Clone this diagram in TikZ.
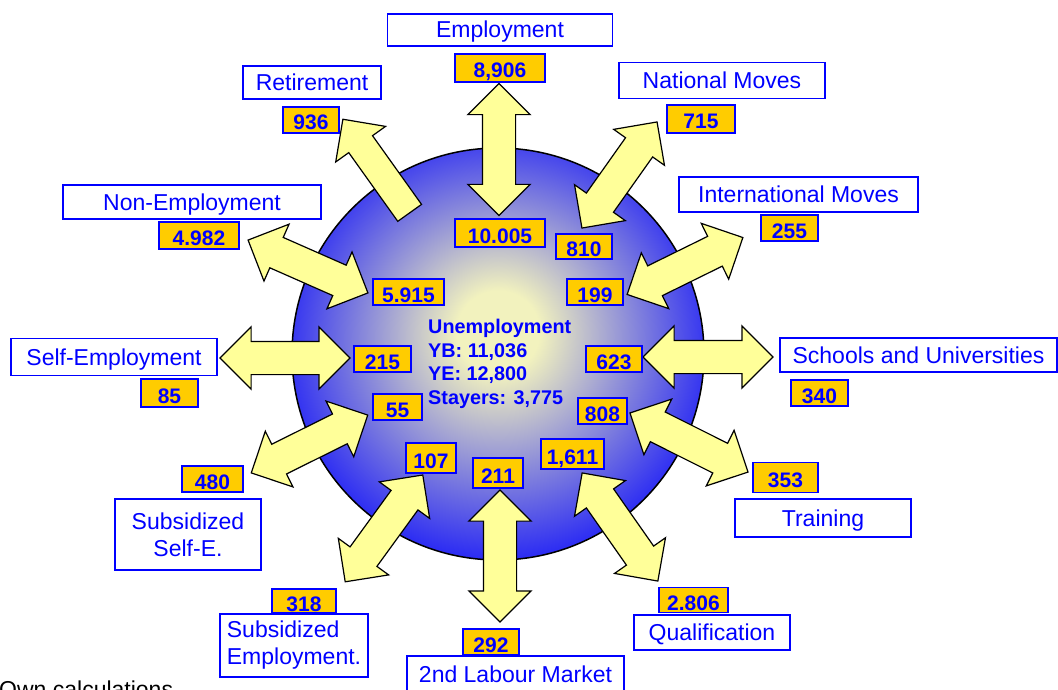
\documentclass[tikz,border=0pt]{standalone}
\usepackage{fontspec}
\setmainfont{Liberation Sans}
\usepackage{tikz}
\usetikzlibrary{shapes.arrows}
\definecolor{m_blue}{HTML}{0000FF}
\definecolor{m_gold}{HTML}{FFCC00}
\definecolor{m_pale}{HTML}{FFFF99}
\definecolor{m_core}{HTML}{F2F2BE}
\pgfdeclareradialshading{ballshade}{\pgfpoint{0bp}{3bp}}{%
  color(0bp)=(m_core); color(5bp)=(m_core); color(31bp)=(m_blue); color(50bp)=(m_blue)}
\newcommand{\labfont}{\fontsize{23}{27}\selectfont}
\newcommand{\valfont}{\bfseries\fontsize{21}{25}\selectfont}
\newcommand{\corefont}{\bfseries\fontsize{19.8}{23.7}\selectfont}

\begin{document}
\begin{tikzpicture}[
        x=1pt, y=-1pt,
        flow/.style={double arrow, draw=black, line width=1.2pt, fill=m_pale,
            inner xsep=0pt, inner ysep=16pt, double arrow head extend=14.5pt,
            minimum height=#1},
        flowout/.style={single arrow, draw=black, line width=1.2pt, fill=m_pale,
            inner xsep=0pt, inner ysep=14pt, single arrow head extend=16pt,
            minimum height=#1},
        lab/.style={draw=m_blue, line width=1.5pt, fill=white, text=m_blue,
            font=\labfont, inner sep=0pt, text height=21pt, text depth=5pt},
        labtwo/.style={draw=m_blue, line width=1.5pt, fill=white, text=m_blue,
            font=\labfont, inner sep=0pt},
        val/.style={draw=m_blue, line width=1.5pt, fill=m_gold, text=m_blue,
            font=\valfont, inner sep=0pt, text height=20pt, text depth=0pt}
    ]
    \useasboundingbox (0,0) rectangle (1058,690);
    \fill[white] (0,0) rectangle (1058,690);

    % the pool of the unemployed
    \node[circle, draw=black, line width=1.5pt, shading=ballshade, minimum size=412pt] (ball) at (498,354) {};

    % flows
    \node[flow=132pt, rotate=90] (aEmp) at (499,149.5) {};
    \node[flowout=115pt, rotate=125.5] (aRet) at (380.5,172) {};
    \node[flow=130pt, rotate=54.7] (aNat) at (619.5,175) {};
    \node[flow=129pt, rotate=26.2] (aInt) at (685,266) {};
    \node[flow=130pt] (aSch) at (708,357) {};
    \node[flow=132pt, rotate=-26.6] (aTra) at (689,442.5) {};
    \node[flow=132pt, rotate=-55] (aQua) at (620,527) {};
    \node[flow=132pt, rotate=90] (aLab) at (500,556) {};
    \node[flow=132pt, rotate=54] (aSem) at (384,528.4) {};
    \node[flow=130pt, rotate=26.4] (aSse) at (309.5,444) {};
    \node[flow=130pt] (aSelf) at (285,358) {};
    \node[flow=131pt, rotate=-23.8] (aNon) at (308,266.5) {};

    % destinations
    \node[lab, minimum width=225pt, minimum height=32pt] (emp) at (500,30) {Employment};
    \node[val, minimum width=90pt, minimum height=28pt] (empOut) at (500,68) {8,906};
    \node[val, minimum width=90pt, minimum height=28pt] (empIn) at (500,233) {10.005};
    \node[lab, minimum width=138pt, minimum height=33pt] (ret) at (312,82.5) {Retirement};
    \node[val, minimum width=56pt, minimum height=26pt] (retOut) at (311,120) {936};
    \node[lab, minimum width=206pt, minimum height=36pt] (nat) at (722,80.5) {National Moves};
    \node[val, minimum width=68pt, minimum height=28pt] (natOut) at (701,119) {715};
    \node[val, minimum width=56pt, minimum height=25pt] (natIn) at (584,246.5) {810};
    \node[lab, minimum width=239pt, minimum height=35pt] (int) at (798.5,194.5) {International Moves};
    \node[val, minimum width=57pt, minimum height=26pt] (intOut) at (789.5,228) {255};
    \node[val, minimum width=56pt, minimum height=26pt] (intIn) at (595,292) {199};
    \node[lab, minimum width=277pt, minimum height=34pt] (sch) at (918.5,355) {Schools and Universities};
    \node[val, minimum width=57pt, minimum height=26pt] (schOut) at (819.5,393) {340};
    \node[val, minimum width=56pt, minimum height=26pt] (schIn) at (614,359) {623};
    \node[lab, minimum width=176pt, minimum height=38pt] (tra) at (823,518) {Training};
    \node[val, minimum width=65pt, minimum height=30pt] (traOut) at (785.5,477.5) {353};
    \node[val, minimum width=49pt, minimum height=26pt] (traIn) at (602.5,411) {808};
    \node[lab, minimum width=156pt, minimum height=35pt] (qua) at (712,632.5) {Qualification};
    \node[val, minimum width=69pt, minimum height=25pt] (quaOut) at (693.5,600) {2.806};
    \node[val, minimum width=63pt, minimum height=30pt] (quaIn) at (572.5,454) {1,611};
    \node[lab, minimum width=217pt, minimum height=36pt] (lab2) at (515.5,674) {2nd Labour Market};
    \node[val, minimum width=56pt, minimum height=26pt] (labOut) at (491,642) {292};
    \node[val, minimum width=50pt, minimum height=30pt] (labIn) at (498,473) {211};
    \node[labtwo, align=left, minimum width=148pt, minimum height=63pt] (sem) at (294,645.5) {Subsidized\\Employment.};
    \node[val, minimum width=64pt, minimum height=24pt] (semOut) at (304,601) {318};
    \node[val, minimum width=50pt, minimum height=30pt] (semIn) at (431,458) {107};
    \node[labtwo, align=center, minimum width=146pt, minimum height=71pt] (sse) at (188,534.5) {Subsidized\\Self-E.};
    \node[val, minimum width=61pt, minimum height=26pt] (sseOut) at (212.5,479) {480};
    \node[val, minimum width=49pt, minimum height=26pt] (sseIn) at (397.5,407) {55};
    \node[lab, minimum width=206pt, minimum height=37pt] (self) at (114,357) {Self-Employment};
    \node[val, minimum width=57pt, minimum height=28pt] (selfOut) at (169.5,393) {85};
    \node[val, minimum width=57pt, minimum height=26pt] (selfIn) at (382.5,359) {215};
    \node[lab, minimum width=258pt, minimum height=34pt] (non) at (192,202) {Non-Employment};
    \node[val, minimum width=80pt, minimum height=27pt] (nonOut) at (199,235.5) {4.982};
    \node[val, minimum width=71pt, minimum height=26pt] (nonIn) at (408.5,292) {5.915};

    % stock figures
    \node[anchor=north west, align=left, inner sep=0pt, text=m_blue, font=\corefont] (core) at (428,319)
        {Unemployment\\YB: 11,036\\YE: 12,800\\Stayers: 3,775};
    \node[anchor=base west, inner sep=0pt, font=\labfont] (src) at (-1,697) {Own calculations};
\end{tikzpicture}
\end{document}
